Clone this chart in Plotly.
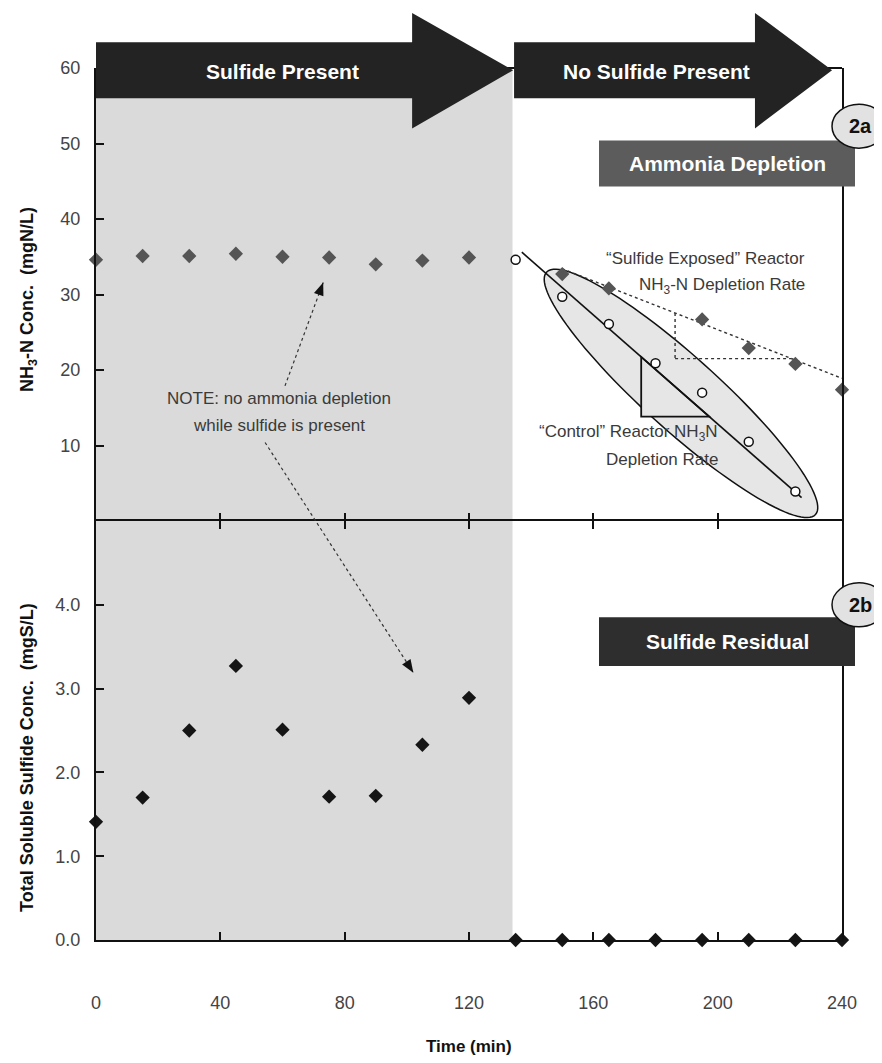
import numpy as np
import plotly.graph_objects as go

# ---------------- data ----------------
time_min = [0, 15, 30, 45, 60, 75, 90, 105, 120, 135, 150, 165, 180, 195, 210, 225, 240]
nh3_sulfide_exposed = [34.6, 35.1, 35.1, 35.4, 35.0, 34.9, 34.0, 34.5, 34.9,
                       None, 32.7, 30.8, None, 26.7, 22.9, 20.8, 17.4]
control_time = [135, 150, 165, 180, 195, 210, 225]
nh3_control = [34.6, 29.7, 26.1, 20.9, 17.0, 10.5, 3.9]
sulfide_residual = [1.41, 1.70, 2.50, 3.27, 2.51, 1.71, 1.72, 2.33, 2.89,
                    0, 0, 0, 0, 0, 0, 0, 0]

# hand-drawn depletion-rate lines (end points)
control_trend_t = [137, 227]
control_trend_y = [35.6, 3.1]
sulfide_trend_t = [150, 240]
sulfide_trend_y = [33.4, 18.9]
control_tri_t = [175.4, 197.3]
sulfide_tri_t = [186.3, 223.8]

sulfide_end = 134            # end of the "sulfide present" period
x_ticks = [0, 40, 80, 120, 160, 200, 240]
top_ticks = [10, 20, 30, 40, 50, 60]
bot_ticks = [0, 1, 2, 3, 4]

# ---------------- layout geometry (screen pixels; page body has an 8px margin) ----------------
OFF = 8
W, H = 882 - OFF, 1063 - OFF
L, R, T, B, MID = 96, 842, 68, 940, 521
XMAX, TOPMAX, BOTMAX = 240, 60, 5
split = (B - MID) / (B - T)

FONT = "Liberation Sans Narrow, Arial Narrow, Liberation Sans, Arial, sans-serif"
INK = "#3a3a3a"


def px_x(t):
    return L + t / XMAX * (R - L)


def px_top(v):
    return MID - v / TOPMAX * (MID - T)


def px_bot(v):
    return B - v / BOTMAX * (B - MID)


def pap_x(px):
    return (px - L) / (R - L)


def pap_y(py):
    return (B - py) / (B - T)


def path(points):
    return "M " + " L ".join(f"{pap_x(x):.5f},{pap_y(y):.5f}" for x, y in points) + " Z"


fig = go.Figure()

# ---------------- traces ----------------
fig.add_trace(go.Scatter(x=control_trend_t, y=control_trend_y, mode="lines",
                         line=dict(color="#111", width=1.6), xaxis="x2", yaxis="y",
                         showlegend=False, hoverinfo="skip"))
fig.add_trace(go.Scatter(x=sulfide_trend_t, y=sulfide_trend_y, mode="lines",
                         line=dict(color="#333", width=1.4, dash="dot"), xaxis="x2", yaxis="y",
                         showlegend=False, hoverinfo="skip"))
fig.add_trace(go.Scatter(x=time_min, y=nh3_sulfide_exposed, mode="markers",
                         marker=dict(symbol="diamond", size=11, color="#555"),
                         xaxis="x2", yaxis="y", cliponaxis=False, showlegend=False))
fig.add_trace(go.Scatter(x=control_time, y=nh3_control, mode="markers",
                         marker=dict(symbol="circle", size=9, color="white",
                                     line=dict(color="#111", width=1.5)),
                         xaxis="x2", yaxis="y", cliponaxis=False, showlegend=False))
fig.add_trace(go.Scatter(x=time_min, y=sulfide_residual, mode="markers",
                         marker=dict(symbol="diamond", size=11, color="#151515"),
                         xaxis="x", yaxis="y2", cliponaxis=False, showlegend=False))

shapes = []
# grey "sulfide present" background over both panels
shapes.append(dict(type="rect", xref="x", yref="paper", x0=0, x1=sulfide_end, y0=0, y1=1,
                   fillcolor="#dadada", line=dict(width=0), layer="below"))
# top border of the upper panel (mostly hidden under the arrows)
shapes.append(dict(type="line", xref="paper", yref="paper", x0=0, x1=1, y0=1, y1=1,
                   line=dict(color="#111", width=2), layer="above"))

# ellipse around control reactor points (defined in data units + pixel semi-axes)
ell_t, ell_v, ell_a, ell_b, ell_ang = 188.2, 16.9, 181, 37, 42.0
cx, cy = px_x(ell_t), px_top(ell_v)
th = np.radians(ell_ang)
ph = np.linspace(0, 2 * np.pi, 120)
ex = cx + ell_a * np.cos(ph) * np.cos(th) - ell_b * np.sin(ph) * np.sin(th)
ey = cy + ell_a * np.cos(ph) * np.sin(th) + ell_b * np.sin(ph) * np.cos(th)
shapes.append(dict(type="path", xref="paper", yref="paper", path=path(list(zip(ex, ey))),
                   fillcolor="#e6e6e6", line=dict(color="#111", width=1.5), layer="below"))

# control slope triangle (solid)
c_y = np.interp(control_tri_t, control_trend_t, control_trend_y)
tri = [(px_x(control_tri_t[0]), px_top(c_y[0])),
       (px_x(control_tri_t[0]), px_top(c_y[1])),
       (px_x(control_tri_t[1]), px_top(c_y[1]))]
shapes.append(dict(type="path", xref="paper", yref="paper", path=path(tri),
                   fillcolor="#e6e6e6", line=dict(color="#111", width=1.8), layer="below"))
# sulfide slope triangle (dotted legs)
s_y = np.interp(sulfide_tri_t, sulfide_trend_t, sulfide_trend_y)
for (t0, v0, t1, v1) in [(sulfide_tri_t[0], s_y[0], sulfide_tri_t[0], s_y[1]),
                         (sulfide_tri_t[0], s_y[1], sulfide_tri_t[1], s_y[1])]:
    shapes.append(dict(type="line", xref="paper", yref="paper",
                       x0=pap_x(px_x(t0)), y0=pap_y(px_top(v0)),
                       x1=pap_x(px_x(t1)), y1=pap_y(px_top(v1)),
                       line=dict(color="#333", width=1.4, dash="dot"), layer="below"))

# big phase arrows on top (in top-panel value units)
body_lo, body_hi, head_lo, head_hi, tip_v = 56.0, 63.4, 52.0, 67.3, 59.7
for (t0, th_, tt) in [(0, 101.7, 134.2), (134.5, 212.0, 236.8)]:
    pts = [(px_x(t0), px_top(body_hi)), (px_x(th_), px_top(body_hi)), (px_x(th_), px_top(head_hi)),
           (px_x(tt), px_top(tip_v)), (px_x(th_), px_top(head_lo)), (px_x(th_), px_top(body_lo)),
           (px_x(t0), px_top(body_lo))]
    shapes.append(dict(type="path", xref="paper", yref="paper", path=path(pts),
                       fillcolor="#232323", line=dict(width=0), layer="above"))


# dotted NOTE arrows
def note_arrow(p0, p1):
    (x0, y0), (x1, y1) = p0, p1
    shapes.append(dict(type="line", xref="paper", yref="paper",
                       x0=pap_x(x0), y0=pap_y(y0), x1=pap_x(x1), y1=pap_y(y1),
                       line=dict(color="#333", width=1.2, dash="dot"), layer="above"))
    d = np.array([x1 - x0, y1 - y0], float)
    d /= np.linalg.norm(d)
    n = np.array([-d[1], d[0]])
    tip = np.array([x1, y1])
    base = tip - 13 * d
    head = [tuple(tip), tuple(base + 5 * n), tuple(base - 5 * n)]
    shapes.append(dict(type="path", xref="paper", yref="paper", path=path(head),
                       fillcolor="#111", line=dict(width=0), layer="above"))


note_arrow((px_x(60.8), px_top(17.9)), (px_x(73.1), px_top(31.6)))
note_arrow((px_x(54.4), px_top(10.4)), (px_x(102.1), px_bot(3.19)))

# panel label boxes + circles
for (ytop, ybot, fill, ccy) in [
        (px_top(50.4), px_top(44.3), "#5c5c5c", px_top(52.3)),
        (px_bot(3.85), px_bot(3.27), "#2e2e2e", px_bot(4.0))]:
    shapes.append(dict(type="rect", xref="paper", yref="paper",
                       x0=pap_x(599), x1=pap_x(855), y0=pap_y(ybot), y1=pap_y(ytop),
                       fillcolor=fill, line=dict(width=0), layer="above"))
    shapes.append(dict(type="circle", xref="paper", yref="paper",
                       x0=pap_x(832), x1=pap_x(886), y0=pap_y(ccy + 22), y1=pap_y(ccy - 22),
                       fillcolor="#e2e2e2", line=dict(color="#111", width=1.5), layer="above"))

annotations = []


def txt(text, x, y, size=17, color=INK, xanchor="center", bold=False, angle=0):
    annotations.append(dict(text=f"<b>{text}</b>" if bold else text, xref="paper", yref="paper",
                            x=pap_x(x), y=pap_y(y), xanchor=xanchor, yanchor="middle",
                            textangle=angle, showarrow=False,
                            font=dict(family=FONT, size=size, color=color)))


txt("Sulfide Present", 282, 71, size=21, color="white", bold=True)
txt("No Sulfide Present", 656, 71, size=21, color="white", bold=True)
txt("Ammonia Depletion", 727, px_top(47.3), size=21, color="white", bold=True)
txt("Sulfide Residual", 727, px_bot(3.56), size=21, color="white", bold=True)
txt("2a", 860, px_top(52.3), size=20, color="#111", bold=True)
txt("2b", 860, px_bot(4.0), size=20, color="#111", bold=True)
txt("“Sulfide Exposed” Reactor", px_x(228.8), px_top(34.8), xanchor="right")
txt("NH<sub>3</sub>-N Depletion Rate", px_x(228.8), px_top(31.1), xanchor="right")
txt("“Control” Reactor NH<sub>3</sub>N", px_x(200.8), px_top(11.6), xanchor="right")
txt("Depletion Rate", px_x(200.8), px_top(8.1), xanchor="right")
txt("NOTE: no ammonia depletion", px_x(59), px_top(16.2))
txt("while sulfide is present", px_x(59), px_top(12.6))
txt("Time (min)", px_x(120), 1046, size=17, color="#111", bold=True)
txt("NH<sub>3</sub>-N Conc.  (mgN/L)", 28, 300, size=18, color="#111", bold=True, angle=-90)
txt("Total Soluble Sulfide Conc.  (mgS/L)", 27, 758, size=18, color="#111", bold=True, angle=-90)

axis_common = dict(linecolor="#111", linewidth=2, showgrid=False, zeroline=False,
                   ticks="inside", tickcolor="#111", tickwidth=2,
                   tickfont=dict(family=FONT, size=18, color="#444"))

fig.update_layout(
    width=W, height=H, paper_bgcolor="white", plot_bgcolor="white",
    margin=dict(l=L - OFF, r=W - (R - OFF), t=T - OFF, b=H - (B - OFF)),
    showlegend=False,
    xaxis=dict(domain=[0, 1], range=[0, XMAX], anchor="y2", mirror="ticks", showline=True,
               tickvals=x_ticks, ticktext=[str(v) for v in x_ticks], ticklen=8,
               ticklabelstandoff=45, **axis_common),
    xaxis2=dict(domain=[0, 1], range=[0, XMAX], anchor="y", matches="x", showline=False,
                tickvals=x_ticks[1:-1], showticklabels=False, ticklen=8, **axis_common),
    yaxis=dict(domain=[split, 1], range=[0, TOPMAX], anchor="x2", mirror=True, showline=True,
               tickvals=top_ticks, ticktext=[str(v) for v in top_ticks], ticklen=8,
               ticklabelstandoff=10, **axis_common),
    yaxis2=dict(domain=[0, split], range=[0, BOTMAX], anchor="x", mirror=True, showline=True,
                tickvals=bot_ticks, ticktext=[f"{v:.1f}" for v in bot_ticks], ticklen=8,
                ticklabelstandoff=10, **axis_common),
    shapes=shapes, annotations=annotations,
)

fig.write_html("out.html")
